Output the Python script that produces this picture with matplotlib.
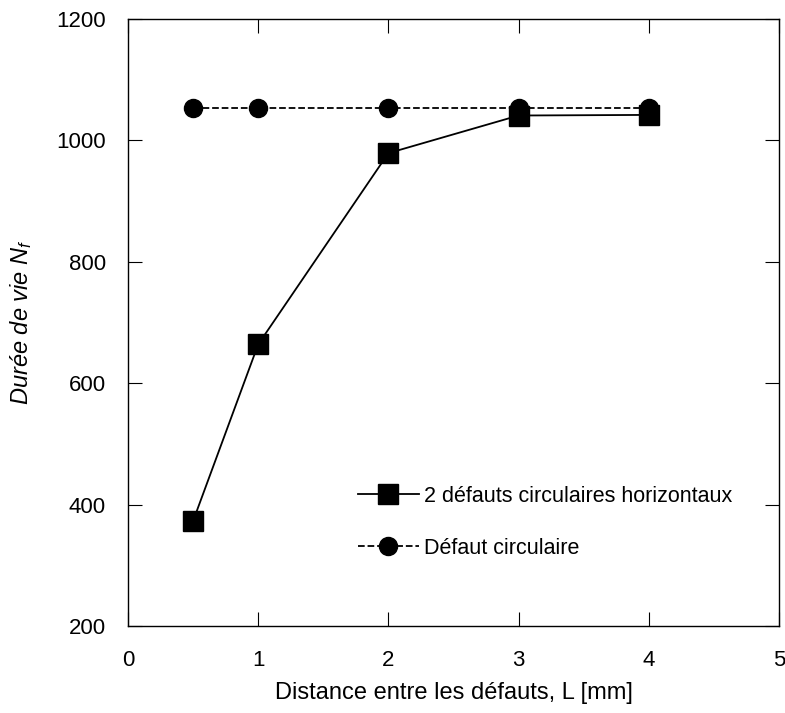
import matplotlib
matplotlib.use("Agg")
import matplotlib.pyplot as plt

plt.rcParams['font.family'] = ['Liberation Sans', 'DejaVu Sans']
plt.rcParams['mathtext.fontset'] = 'custom'
plt.rcParams['mathtext.it'] = 'Liberation Sans:italic'
plt.rcParams['mathtext.rm'] = 'Liberation Sans'

distance = [0.5, 1, 2, 3, 4]
deux_defauts = [373, 664, 979, 1041, 1042]
defaut_circ = [1053, 1053, 1053, 1053, 1053]

fig = plt.figure(figsize=(7.85, 7.13), dpi=100)
ax = fig.add_axes([128/785, 1 - 626/713, (779-128)/785, (626-19)/713])

ax.plot(distance, deux_defauts, '-s', color='black', markersize=14, lw=1.3,
        label='2 défauts circulaires horizontaux')
ax.plot(distance, defaut_circ, '--o', color='black', markersize=13, lw=1.3,
        label='Défaut circulaire')

ax.set_xlim(0, 5)
ax.set_ylim(200, 1200)
ax.set_xticks([0, 1, 2, 3, 4, 5])
ax.set_yticks([200, 400, 600, 800, 1000, 1200])
ax.tick_params(direction='in', top=True, right=True, labelsize=16, length=10, width=0.8)
ax.tick_params(axis='y', pad=16)
ax.tick_params(axis='x', pad=17)
for s in ax.spines.values():
    s.set_linewidth(1.0)

ax.set_xlabel('Distance entre les défauts, L [mm]', fontsize=17, labelpad=8)
ax.set_ylabel('Durée de vie $\\mathit{N}_{\\mathit{f}}$', fontsize=17, style='italic', labelpad=16)

leg = ax.legend(loc='upper left', bbox_to_anchor=(0.324, 0.263), frameon=False,
                fontsize=15.5, handlelength=2.8, handletextpad=0.25, labelspacing=1.45)

fig.savefig('out.png', dpi=100)
